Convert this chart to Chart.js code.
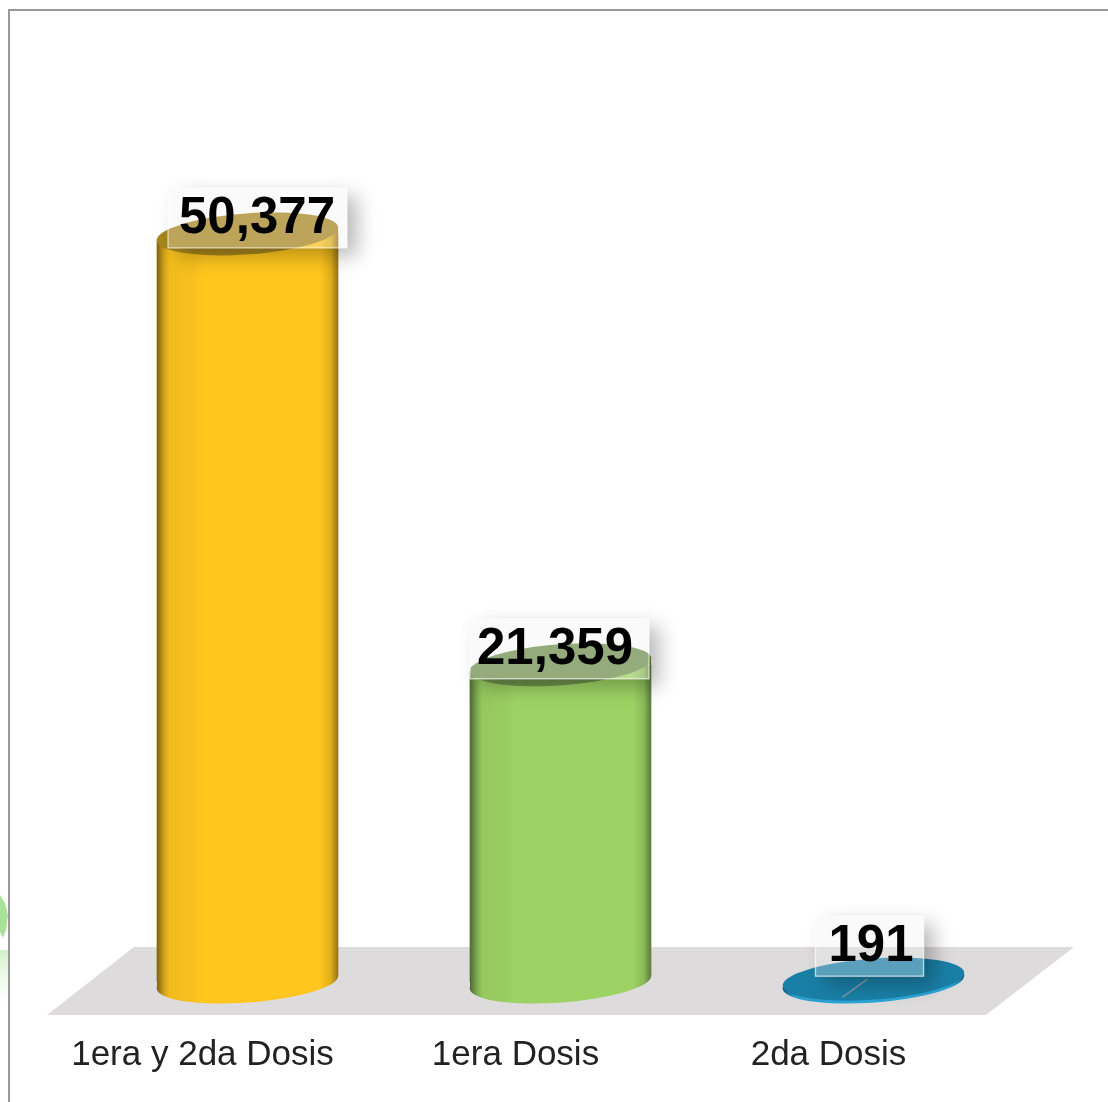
<!DOCTYPE html>
<html>
<head>
<meta charset="utf-8">
<style>
  html, body { margin: 0; padding: 0; background: #fff; }
  canvas { display: block; }
</style>
<script src="https://cdn.jsdelivr.net/npm/chart.js@4/dist/chart.umd.min.js"></script>
</head>
<body>
<canvas id="chart" width="1108" height="1102"></canvas>
<script>
const categories = ['1era y 2da Dosis', '1era Dosis', '2da Dosis'];
const doses = [50377, 21359, 191];
const bodyColors = ['#ffc61e', '#9dd364', '#2aa5d6'];
const capColors = ['#a6851c', '#6d8f4a', '#1a7fa6'];
const labelShiftX = [10, -1, -4];
const labelShiftY = [0, 0, -17];
const textInset = [11, 7, 13];

const BAR_WIDTH = 181;
const CAP_RY = 20.5;
const TILT = -4.2 * Math.PI / 180;
const FLAT_LIMIT = 1000; // below this a cylinder is only its two ellipses

// Utility function to darken a hex colour
function shade(hex, f) {
  const n = parseInt(hex.slice(1), 16);
  const r = Math.round((n >> 16 & 255) * f);
  const g = Math.round((n >> 8 & 255) * f);
  const b = Math.round((n & 255) * f);
  return `rgb(${r},${g},${b})`;
}

// Horizontal cylinder shading for one bar
function bodyGradient(c, cx, color) {
  const half = BAR_WIDTH / 2;
  const g = c.createLinearGradient(cx - half, 0, cx + half, 0);
  g.addColorStop(0, shade(color, 0.5));
  g.addColorStop(0.015, shade(color, 0.62));
  g.addColorStop(0.045, shade(color, 0.85));
  g.addColorStop(0.07, shade(color, 0.95));
  g.addColorStop(0.2, shade(color, 0.97));
  g.addColorStop(0.25, color);
  g.addColorStop(0.9, color);
  g.addColorStop(0.96, shade(color, 0.88));
  g.addColorStop(0.995, shade(color, 0.62));
  g.addColorStop(1, shade(color, 0.6));
  return g;
}

function ellipsePath(c, cx, cy) {
  c.beginPath();
  c.ellipse(cx, cy, BAR_WIDTH / 2 + 0.5, CAP_RY, TILT, 0, Math.PI * 2);
}

// Wedge between the flat bar end and the tilted ellipse axis.
// side is 1 for the right part above the bar top, -1 for the left part below the bar bottom
function collar(c, cx, cy, side) {
  const half = BAR_WIDTH / 2;
  const d = Math.tan(-TILT) * half;
  c.beginPath();
  c.moveTo(cx, cy);
  c.lineTo(cx + side * half, cy - side * d);
  c.lineTo(cx + side * half, cy);
  c.closePath();
}

const framePlugin = {
  id: 'frame',
  beforeDraw(chart) {
    const c = chart.ctx;
    c.save();
    c.fillStyle = '#fff';
    c.fillRect(0, 0, chart.width, chart.height);
    // bits of the page background left of the frame
    c.fillStyle = '#a9e296';
    c.beginPath();
    c.moveTo(0, 895);
    c.lineTo(5, 903);
    c.lineTo(8, 915);
    c.lineTo(6, 930);
    c.lineTo(3, 938);
    c.lineTo(0, 932);
    c.closePath();
    c.fill();
    const fade = c.createLinearGradient(0, 950, 0, 1005);
    fade.addColorStop(0, 'rgba(190,235,175,0.7)');
    fade.addColorStop(1, 'rgba(230,248,225,0)');
    c.fillStyle = fade;
    c.fillRect(0, 950, 8, 55);
    // frame lines
    c.fillStyle = '#999';
    c.fillRect(8, 9, chart.width - 8, 2);
    c.fillRect(8, 9, 2, chart.height - 9);
    c.restore();
  }
};

const cylinderPlugin = {
  id: 'cylinder',
  beforeDatasetsDraw(chart) {
    const c = chart.ctx;
    const x = chart.scales.x;
    const y = chart.scales.y;
    const base = y.getPixelForValue(0);
    // floor
    c.save();
    c.fillStyle = '#dddbdc';
    c.beginPath();
    c.moveTo(x.left - 44, base + 33);
    c.lineTo(x.left + 43, base - 35);
    c.lineTo(x.right + 44, base - 35);
    c.lineTo(x.right - 44, base + 33);
    c.closePath();
    c.fill();
    // bottom of each cylinder
    doses.forEach((v, i) => {
      const cx = x.getPixelForValue(i);
      c.fillStyle = bodyGradient(c, cx, bodyColors[i]);
      ellipsePath(c, cx, base);
      c.fill();
      if (v >= FLAT_LIMIT) {
        collar(c, cx, base, -1);
        c.fill();
      }
    });
    c.restore();
  },
  afterDatasetsDraw(chart) {
    const c = chart.ctx;
    const x = chart.scales.x;
    const y = chart.scales.y;
    c.save();
    doses.forEach((v, i) => {
      const cx = x.getPixelForValue(i);
      const top = y.getPixelForValue(v);
      if (v >= FLAT_LIMIT) {
        c.fillStyle = bodyGradient(c, cx, bodyColors[i]);
        collar(c, cx, top, 1);
        c.fill();
      }
      c.fillStyle = capColors[i];
      ellipsePath(c, cx, top);
      c.fill();
    });
    // stray line on the flat cylinder
    const smallX = x.getPixelForValue(2);
    const smallY = y.getPixelForValue(doses[2]);
    c.strokeStyle = 'rgba(150,160,165,0.8)';
    c.lineWidth = 1.5;
    c.beginPath();
    c.moveTo(smallX - 31, smallY + 18);
    c.lineTo(smallX - 6, smallY);
    c.stroke();
    c.restore();
  },
  afterDraw(chart) {
    const c = chart.ctx;
    const x = chart.scales.x;
    const y = chart.scales.y;
    c.save();
    c.font = 'bold 51px "Liberation Sans", Arial, sans-serif';
    c.textBaseline = 'alphabetic';
    c.textAlign = 'left';
    doses.forEach((v, i) => {
      const text = v.toLocaleString('en-US');
      const w = c.measureText(text).width + 23;
      const cx = x.getPixelForValue(i) + labelShiftX[i];
      const baseline = y.getPixelForValue(v) + labelShiftY[i];
      const bx = cx - w / 2;
      const by = baseline - 46;
      const bh = 60;
      // soft shadow outside the box only
      c.save();
      c.beginPath();
      c.rect(0, 0, chart.width, chart.height);
      c.rect(bx, by, w, bh);
      c.clip('evenodd');
      c.shadowColor = 'rgba(0,0,0,0.28)';
      c.shadowBlur = 20;
      c.shadowOffsetX = 10;
      c.shadowOffsetY = 8;
      c.fillStyle = '#fff';
      c.fillRect(bx, by, w, bh);
      c.restore();
      // translucent box
      c.fillStyle = 'rgba(240,240,240,0.3)';
      c.fillRect(bx, by, w, bh);
      c.strokeStyle = 'rgba(255,255,255,0.55)';
      c.lineWidth = 1.5;
      c.strokeRect(bx, by, w, bh);
      c.fillStyle = '#000';
      c.fillText(text, bx + textInset[i], baseline - 1);
    });
    c.restore();
  }
};

new Chart(document.getElementById('chart').getContext('2d'), {
  type: 'bar',
  data: {
    labels: categories,
    datasets: [{
      data: doses,
      barThickness: BAR_WIDTH,
      borderWidth: 0,
      borderSkipped: false,
      borderRadius: { topLeft: 8, topRight: 0, bottomLeft: 0, bottomRight: 8 },
      backgroundColor(ctx) {
        const xs = ctx.chart.scales.x;
        const i = ctx.dataIndex;
        if (!xs || i === undefined) return bodyColors[0];
        if (doses[i] < FLAT_LIMIT) return 'transparent';
        const cx = xs.getPixelForValue(i);
        if (!Number.isFinite(cx)) return bodyColors[i];
        return bodyGradient(ctx.chart.ctx, cx, bodyColors[i]);
      }
    }]
  },
  options: {
    responsive: false,
    animation: false,
    layout: { padding: { left: 91, right: 78, top: 91, bottom: 28 } },
    plugins: { legend: { display: false }, tooltip: { enabled: false } },
    scales: {
      x: {
        afterFit(scale) { scale.height = 92; },
        grid: { display: false, drawTicks: false },
        border: { display: false },
        ticks: {
          padding: 52,
          maxRotation: 0,
          autoSkip: false,
          labelOffset: -45,
          color: '#222',
          font: { family: '"Liberation Sans", Arial, sans-serif', size: 35 }
        }
      },
      y: { display: false, min: 0, max: 60000 }
    }
  },
  plugins: [framePlugin, cylinderPlugin]
});
</script>
</body>
</html>
